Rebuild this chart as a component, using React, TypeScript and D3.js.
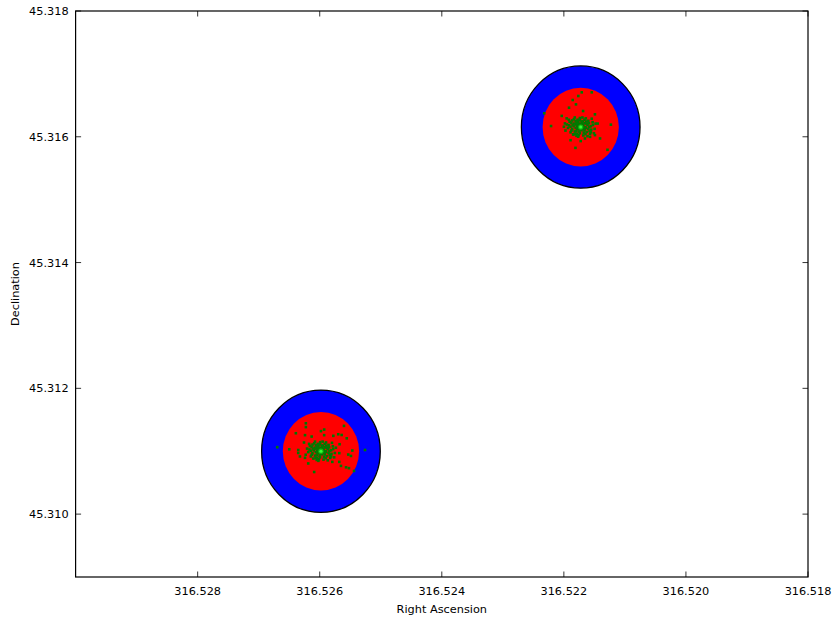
import React from "react";
import * as d3 from "d3";

// Target centres (deg)
const sourceRA = [316.52598, 316.521724];
const sourceDec = [45.311, 45.316154];

// Error circle radii (deg): outer and inner
const outerRadius = 0.000972;
const innerRadius = 0.000625;

// Dense core of the measurements, shared shape (arcsec, +RA = east, +Dec = north)
const coreOffsets: [number, number][] = [
  [0.1, 0.05], [-0.12, 0.08], [0.2, -0.1], [-0.05, -0.18], [0.28, 0.15], [-0.25, 0.22],
  [0.15, 0.3], [-0.3, -0.05], [0.35, -0.25], [-0.18, -0.32], [0.05, 0.4], [0.42, 0.05],
  [-0.4, 0.12], [0.22, -0.38], [-0.08, 0.25], [0.3, 0.35], [-0.35, -0.28], [0.5, -0.12],
  [-0.5, 0.02], [0.12, -0.46], [-0.22, 0.42], [0.55, 0.25], [-0.15, -0.48], [0.4, 0.45],
  [-0.45, 0.36], [0.6, -0.3], [-0.62, -0.15], [0.05, 0.52], [0.25, -0.5], [-0.3, 0.5],
  [0.68, 0.1], [-0.7, 0.28], [0.18, 0.12], [-0.02, -0.08], [0.08, -0.25], [-0.28, 0.0],
  [0.45, -0.42], [-0.55, -0.38], [0.7, 0.42], [-0.1, 0.55], [0.35, 0.55], [0.75, -0.05],
  [-0.65, 0.48], [0.15, -0.55], [-0.4, -0.52], [-0.82, -0.1], [-0.88, 0.2], [-0.78, -0.35],
  [-0.6, 0.05], [0.6, 0.02], [-0.2, -0.1], [0.02, 0.18], [-0.45, -0.1], [0.3, -0.05],
  [0.12, 0.18], [-0.15, 0.15], [0.22, 0.02], [-0.08, -0.05], [0.0, 0.1], [0.08, -0.12],
  [-0.22, -0.18], [0.25, -0.22], [-0.35, 0.2], [0.38, 0.2], [-0.12, 0.32], [0.18, 0.42],
  [-0.28, -0.4], [0.05, -0.35], [0.48, 0.12], [-0.52, -0.22], [0.32, -0.38], [-0.05, 0.32],
  [0.55, -0.2], [-0.48, 0.22], [0.1, -0.05], [-0.18, 0.0], [0.25, 0.25], [-0.32, 0.32],
  [0.65, 0.3], [-0.72, 0.12], [0.82, 0.15], [0.9, -0.2], [-0.6, -0.3], [0.5, 0.38],
];

// Scattered outliers around each centre (arcsec)
const outliersA: [number, number][] = [
  [0.89, 1.6], [0.89, 1.38], [-1.36, 1.45], [1.48, 1.03], [0.94, 0.92], [0.0, 1.15],
  [-0.19, 1.24], [-0.19, 0.92], [-0.73, 0.88], [-1.02, 0.97], [-1.22, 0.93], [-1.52, 0.74],
  [0.55, 0.84], [1.87, 0.11], [1.34, 0.07], [1.34, -0.1], [-1.85, 0.04], [-1.77, -0.27],
  [-1.61, -0.19], [-1.08, -0.11], [1.24, -0.3], [0.94, -0.38], [-1.18, -0.84], [-0.67, -0.61],
  [-1.08, -0.61], [0.4, -1.19], [-1.48, -0.92], [-1.65, -0.97], [-1.95, -1.13], [-2.6, 0.07],
  [2.58, 0.23], [1.0, 0.5], [-1.1, 0.4], [0.75, -0.7],
];

const outliersB: [number, number][] = [
  [-0.06, 1.99], [-0.65, 1.99], [0.14, 1.78], [0.47, 1.55], [0.28, 1.3], [0.69, 1.11],
  [-0.14, 0.92], [-0.84, 0.73], [2.15, 0.79], [1.12, 0.64], [0.83, 0.5], [1.75, 0.06],
  [-1.78, 0.14], [0.99, 0.02], [-1.14, -0.65], [0.31, -1.19], [-1.58, -1.3], [-0.55, -0.56],
  [-0.84, -0.46], [0.0, -0.8], [0.43, -0.42], [-0.25, -0.65], [0.93, 0.21], [-1.0, 0.2],
  [0.6, -0.75],
];

const xTicks = [316.528, 316.526, 316.524, 316.522, 316.52, 316.518];
const yTicks = [45.31, 45.312, 45.314, 45.316, 45.318];

const W = 833;
const H = 620;
const left = 75.6;
const right = 808;
const top = 11;
const bottom = 577;

const font = "'DejaVu Sans', sans-serif";

export default function App() {
  const x = d3.scaleLinear().domain([316.53, 316.518]).range([left, right]);
  const y = d3.scaleLinear().domain([45.309, 45.318]).range([bottom, top]);

  const clusters = [outliersA.concat(coreOffsets), outliersB.concat(coreOffsets)];
  const tickLen = 5.5;
  const s = 2.6;

  return (
    <svg
      width={W}
      height={H}
      style={{ position: "absolute", left: 0, top: 0, background: "#fff" }}
      fontFamily={font}
    >
      <rect x={0} y={0} width={W} height={H} fill="#fff" />
      {sourceRA.map((ra, i) => {
        const dec = sourceDec[i];
        const cx = x(ra);
        const cy = y(dec);
        const rxO = Math.abs(x(ra + outerRadius) - cx);
        const ryO = Math.abs(y(dec + outerRadius) - cy);
        const rxI = Math.abs(x(ra + innerRadius) - cx);
        const ryI = Math.abs(y(dec + innerRadius) - cy);
        return (
          <g key={i}>
            <ellipse cx={cx} cy={cy} rx={rxO} ry={ryO} fill="#0000ff" stroke="#000" strokeWidth={1.3} />
            <ellipse cx={cx} cy={cy} rx={rxI} ry={ryI} fill="#ff0000" />
            {clusters[i].map(([da, dd], j) => (
              <rect
                key={j}
                x={x(ra + da / 3600) - s / 2}
                y={y(dec + dd / 3600) - s / 2}
                width={s}
                height={s}
                fill="#007a00"
              />
            ))}
            <circle cx={cx} cy={cy} r={2.6} fill="#11b811" />
            <circle cx={cx} cy={cy} r={1.5} fill="#33ff33" />
          </g>
        );
      })}

      {/* frame */}
      <rect x={left} y={top} width={right - left} height={bottom - top} fill="none" stroke="#000" strokeWidth={1.2} />

      {xTicks.map((t) => (
        <g key={t}>
          <line x1={x(t)} x2={x(t)} y1={bottom} y2={bottom - tickLen} stroke="#000" strokeWidth={0.8} />
          <line x1={x(t)} x2={x(t)} y1={top} y2={top + tickLen} stroke="#000" strokeWidth={0.8} />
          <text x={x(t)} y={bottom + 18} textAnchor="middle" fontSize={11.3} fill="#000">
            {d3.format(".3f")(t)}
          </text>
        </g>
      ))}
      {yTicks.map((t) => (
        <g key={t}>
          <line x1={left} x2={left + tickLen} y1={y(t)} y2={y(t)} stroke="#000" strokeWidth={0.8} />
          <line x1={right} x2={right - tickLen} y1={y(t)} y2={y(t)} stroke="#000" strokeWidth={0.8} />
          <text x={left - 7} y={y(t)} dy="0.35em" textAnchor="end" fontSize={11.3} fill="#000">
            {d3.format(".3f")(t)}
          </text>
        </g>
      ))}

      <text x={(left + right) / 2} y={613} textAnchor="middle" fontSize={11.3} fill="#000">
        Right Ascension
      </text>
      <text
        transform={`translate(19,${(top + bottom) / 2}) rotate(-90)`}
        textAnchor="middle"
        fontSize={11.3}
        fill="#000"
      >
        Declination
      </text>
    </svg>
  );
}
